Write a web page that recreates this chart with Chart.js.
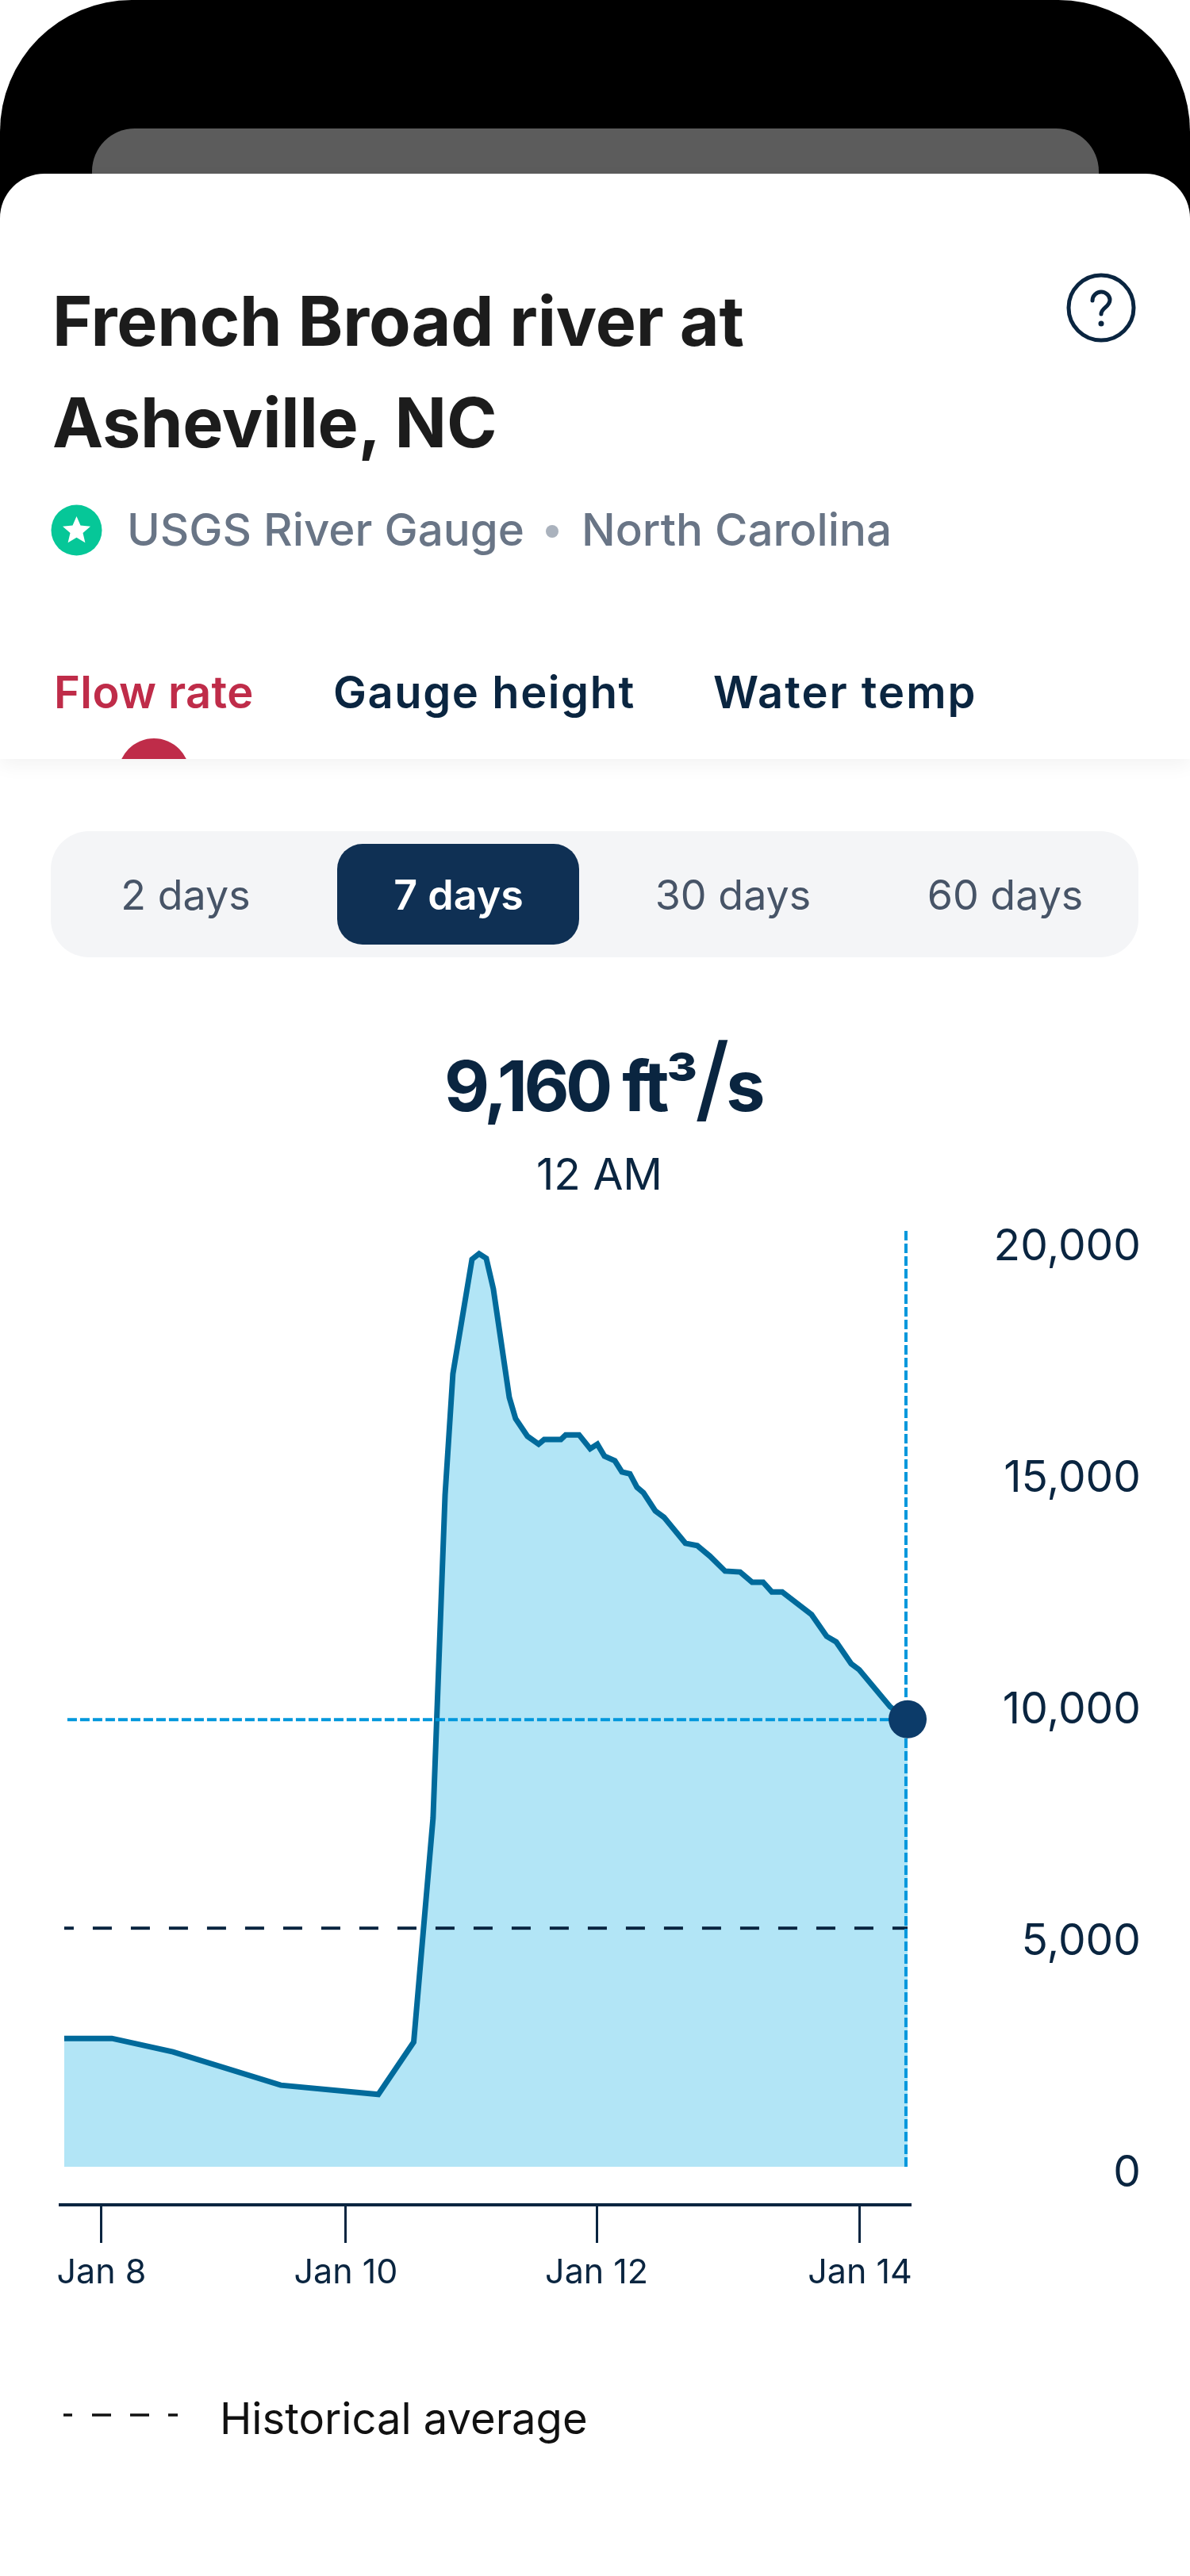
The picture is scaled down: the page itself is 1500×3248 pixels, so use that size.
<!DOCTYPE html>
<html>
<head>
<meta charset="utf-8">
<title>French Broad river at Asheville, NC</title>
<script src="https://cdn.jsdelivr.net/npm/chart.js@4"></script>
<style>
  html, body { margin: 0; padding: 0; background: #fff; }
  #page { position: relative; width: 1500px; height: 3248px; overflow: hidden; font-family: Inter, sans-serif; color: #0a2540; }
  #page > * { position: absolute; }
  .t { white-space: nowrap; line-height: 1; }
  .head { font-weight: 700; letter-spacing: -0.2px; font-size: 86px; color: #1c1c1c; left: 66px; }
  .sub { font-weight: 500; font-size: 56.5px; color: #697586; }
  .tab { font-weight: 600; font-size: 56px; }
  .pill { font-size: 52px; color: #475467; transform: translateX(-50%); }
  #phone { left: 0; top: 0; width: 1500px; height: 300px; background: #000; border-radius: 166px 166px 0 0; }
  #notch { left: 116px; top: 162px; width: 1269px; height: 100px; background: #5c5c5c; border-radius: 54px 54px 0 0; }
  #card { left: 0; top: 219px; width: 1500px; height: 738px; background: #fff; border-radius: 56px 56px 0 0; box-shadow: 0 8px 24px rgba(0,0,0,0.05); overflow: hidden; }
  #bump { position: absolute; left: 149px; top: 712px; width: 90px; height: 90px; border-radius: 50%; background: #bf2c49; }
  #pillbar { left: 64px; top: 1048px; width: 1371px; height: 159px; border-radius: 48px; background: #f4f5f7; }
  #pillon { left: 425px; top: 1064px; width: 305px; height: 127px; border-radius: 32px; background: #0f3054; }
  #chart { left: 0; top: 1500px; }
</style>
</head>
<body>
<div id="page">
  <div id="phone"></div>
  <div id="notch"></div>
  <div id="card"><div id="bump"></div></div>

  <div class="t head" style="top:362px">French Broad river at</div>
  <div class="t head" style="top:490px">Asheville, NC</div>
  <svg style="left:1340px;top:340px" width="96" height="96" viewBox="0 0 96 96">
    <circle cx="48" cy="48" r="41" fill="none" stroke="#0a2540" stroke-width="5"/>
    <path d="M37 39c0-6 5-11 11-11s11 5 11 10c0 9-11 10-11 18" fill="none" stroke="#0a2540" stroke-width="5" stroke-linecap="round"/>
    <circle cx="48" cy="68" r="3.5" fill="#0a2540"/>
  </svg>

  <svg style="left:64px;top:636px" width="65" height="65" viewBox="0 0 65 65">
    <circle cx="32.5" cy="32.5" r="32" fill="#06c798"/>
    <path d="M32.5 15l5 11.500 12.500 1.200-9.500 8.300 2.900 12.200-10.900-6.500-10.900 6.500 2.900-12.200-9.500-8.300 12.500-1.200z" fill="#fff"/>
  </svg>
  <div class="t sub" style="left:160px;top:640px">USGS River Gauge</div>
  <svg style="left:686px;top:660px" width="20" height="20"><circle cx="10" cy="10" r="8" fill="#aab2bd"/></svg>
  <div class="t sub" style="left:733px;top:640px">North Carolina</div>

  <div class="t tab" style="left:68px;top:845px;color:#bf2c49;letter-spacing:0.4px">Flow rate</div>
  <div class="t tab" style="left:420px;top:845px;letter-spacing:1.6px">Gauge height</div>
  <div class="t tab" style="left:899px;top:845px;letter-spacing:2px">Water temp</div>

  <div id="pillbar"></div>
  <div id="pillon"></div>
  <div class="t pill" style="left:234px;top:1103px">2 days</div>
  <div class="t pill" style="left:578px;top:1103px;color:#fff;font-weight:600">7 days</div>
  <div class="t pill" style="left:924px;top:1103px">30 days</div>
  <div class="t pill" style="left:1267px;top:1103px">60 days</div>

  <div class="t" style="left:560px;top:1325px;font-size:88px;font-weight:700;letter-spacing:-4.500px;line-height:88px">9,160 ft³<span style="font-size:118px;font-weight:500;line-height:0">/</span>s</div>
  <div class="t" style="left:676px;top:1453px;font-size:55px">12 AM</div>

  <canvas id="chart" width="1500" height="1400"></canvas>

  <svg style="left:80px;top:3040px" width="150" height="12"><line x1="0" y1="5" x2="146" y2="5" stroke="#111" stroke-width="3.500" stroke-dasharray="11 25 24 24 24 24 12"/></svg>
  <div class="t" style="left:277px;top:3022px;font-size:54.300px;color:#111">Historical average</div>
</div>

<script>
// days (Jan = day of month) and flow
const flowDays = [7.705, 8.082, 8.565, 9.418, 10.190, 10.470, 10.623, 10.718, 10.780, 10.931,
  10.987, 11.044, 11.100, 11.226, 11.276, 11.370, 11.458, 11.502, 11.634, 11.672,
  11.778, 11.866, 11.923, 11.979, 12.061, 12.117, 12.180, 12.236, 12.287, 12.381,
  12.450, 12.619, 12.713, 12.814, 12.933, 13.052, 13.147, 13.234, 13.303, 13.385,
  13.617, 13.737, 13.812, 13.931, 13.994, 14.239, 14.377];
const flowValues = [2840, 2840, 2550, 1830, 1630, 2760, 7600, 14570, 17190, 19660,
  19780, 19680, 19020, 16680, 16220, 15840, 15670, 15770, 15770, 15870,
  15870, 15570, 15670, 15410, 15310, 15070, 15030, 14740, 14620, 14230,
  14090, 13530, 13480, 13250, 12930, 12910, 12690, 12690, 12480, 12480,
  11990, 11520, 11400, 10930, 10800, 10000, 9730];
const historicalAverage = 5220;
const selectedDay = 14.364;
const selectedValue = 9720;

const xTickValues = [8, 9.933, 11.917, 14];
const xTickLabels = ["Jan 8", "Jan 10", "Jan 12", "Jan 14"];
const yTickValues = [0, 5000, 10000, 15000, 20000];

const xMin = 7.674, xMax = 14.402;
const yMin = -753, yMax = 20342;
const fillFloor = 68;

const ink = "#0a2540";

new Chart(document.getElementById("chart").getContext("2d"), {
  type: "line",
  data: {
    datasets: [
      {
        label: "Selected",
        data: [{ x: flowDays[flowDays.length - 1], y: flowValues[flowValues.length - 1] }],
        pointRadius: 24,
        pointBackgroundColor: "#0c3b69",
        pointBorderWidth: 0,
        showLine: false,
        clip: false,
        order: 1
      },
      {
        label: "Selected time",
        data: [{ x: selectedDay, y: fillFloor }, { x: selectedDay, y: yMax }],
        borderColor: "#0097dc",
        borderWidth: 4,
        borderDash: [12, 4],
        pointRadius: 0,
        order: 2
      },
      {
        label: "Selected flow",
        data: [{ x: 7.73, y: selectedValue }, { x: selectedDay, y: selectedValue }],
        borderColor: "#0097dc",
        borderWidth: 4,
        borderDash: [12, 4],
        pointRadius: 0,
        order: 3
      },
      {
        label: "Historical average",
        data: [{ x: flowDays[0], y: historicalAverage }, { x: flowDays[flowDays.length - 1], y: historicalAverage }],
        borderColor: ink,
        borderWidth: 4,
        borderDash: [24, 24],
        borderDashOffset: 12,
        pointRadius: 0,
        order: 4
      },
      {
        label: "Flow",
        data: flowDays.map((d, i) => ({ x: d, y: flowValues[i] })),
        borderColor: "#006a9b",
        backgroundColor: "#b2e5f6",
        borderWidth: 7,
        borderJoinStyle: "miter",
        fill: { value: fillFloor },
        tension: 0,
        pointRadius: 0,
        order: 5
      }
    ]
  },
  options: {
    responsive: false,
    animation: false,
    layout: { padding: { top: 48, left: 76, right: 62, bottom: 0 } },
    plugins: { legend: { display: false }, tooltip: { enabled: false } },
    scales: {
      x: {
        type: "linear",
        min: xMin,
        max: xMax,
        afterBuildTicks: (scale) => { scale.ticks = xTickValues.map(v => ({ value: v })); },
        afterFit: (scale) => { scale.height = 120; },
        border: { color: ink, width: 4 },
        grid: { drawOnChartArea: false, drawTicks: true, tickLength: 48, tickColor: ink, tickWidth: 3 },
        ticks: {
          color: ink,
          autoSkip: false,
          maxRotation: 0,
          padding: 12,
          font: { family: "Inter", size: 43 },
          callback: (v, i) => xTickLabels[i]
        }
      },
      y: {
        position: "right",
        min: yMin,
        max: yMax,
        afterBuildTicks: (scale) => { scale.ticks = yTickValues.map(v => ({ value: v })); },
        // tick padding here only pushes the labels sideways, drop what it adds above and below
        afterFit: (scale) => { scale.width = 290; scale.paddingTop = 0; scale.paddingBottom = 0; },
        border: { display: false },
        grid: { display: false, drawTicks: false },
        ticks: {
          autoSkip: false,
          crossAlign: "far",
          padding: 110,
          labelOffset: 4,
          color: ink,
          font: { family: "Inter", size: 55 },
          callback: (v) => v.toLocaleString("en-US")
        }
      }
    }
  }
});
</script>
</body>
</html>
